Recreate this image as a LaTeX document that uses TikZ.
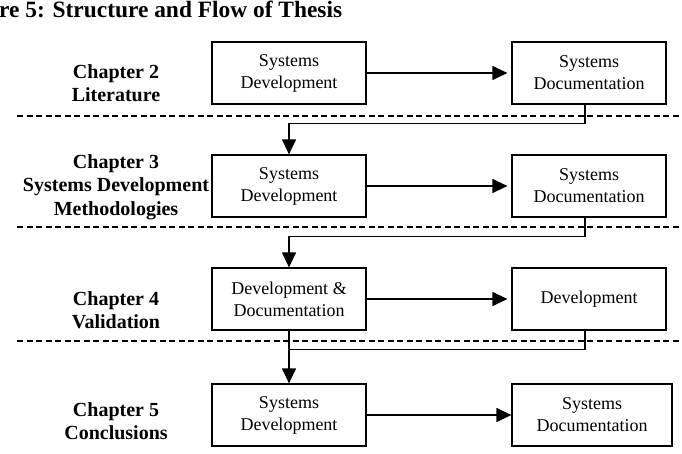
\documentclass[tikz,border=0pt]{standalone}
\usepackage{fontspec}
\setmainfont{Liberation Serif}
\usetikzlibrary{arrows.meta}

\tikzset{
  stagebox/.style={draw, line width=1.2pt, minimum width=154pt, minimum height=62pt,
    inner sep=0pt, align=center, font=\fontsize{18}{22}\selectfont},
  chapterlabel/.style={align=center, inner sep=0pt, font=\bfseries\fontsize{20}{23.5}\selectfont},
  separator/.style={dashed, dash pattern=on 6pt off 3.5pt, line width=1.1pt},
  flow/.style={line width=1.2pt, -{Triangle[length=15pt,width=14pt]}},
  link/.style={line width=1.2pt},
}

\begin{document}
\begin{tikzpicture}[x=1pt, y=-1pt]
  \useasboundingbox (0,0) rectangle (682,454);

  % title line
  \node[anchor=base west, inner sep=0pt, font=\bfseries\fontsize{23.4}{26}\selectfont]
    (title) at (-1,18) {re 5: Structure and Flow of Thesis};

  % chapter labels
  \node[chapterlabel] (c2) at (116,83)  {Chapter 2\\Literature};
  \node[chapterlabel] (c3) at (116,187) {Chapter 3\\Systems Development\\Methodologies};
  \node[chapterlabel] (c4) at (116,310) {Chapter 4\\Validation};
  \node[chapterlabel] (c5) at (116,421) {Chapter 5\\Conclusions};

  % separators between the chapters
  \draw[separator] (17,116) -- (682,116);
  \draw[separator] (17,227) -- (682,227);
  \draw[separator] (17,341) -- (682,341);

  % row 1
  \node[stagebox] (l1) at (289,73)  {Systems\\Development};
  \node[stagebox] (r1) at (589,73)  {Systems\\Documentation};
  % row 2
  \node[stagebox] (l2) at (289,186) {Systems\\Development};
  \node[stagebox] (r2) at (589,186) {Systems\\Documentation};
  % row 3
  \node[stagebox] (l3) at (289,299) {Development \&\\Documentation};
  \node[stagebox] (r3) at (589,299) {Development};
  % row 4
  \node[stagebox] (l4) at (289,415) {Systems\\Development};
  \node[stagebox, minimum width=160pt] (r4) at (592,415) {Systems\\Documentation};

  % horizontal flows
  \draw[flow, shorten >=4pt] (l1) -- (r1);
  \draw[flow, shorten >=4pt] (l2) -- (r2);
  \draw[flow, shorten >=4pt] (l3) -- (r3);
  \draw[flow] (l4) -- (r4);

  % flows down to the next chapter
  \draw[flow] ([xshift=-4pt]r1.south) -- ++(0,19) -| (l2.north);
  \draw[flow] ([xshift=-4pt]r2.south) -- ++(0,19) -| (l3.north);
  \draw[flow] (l3.south) -- (l4.north);
  \path (l3.south) ++(0,19) coordinate (j3);
  \draw[link] ([xshift=-4pt]r3.south) |- (j3);
\end{tikzpicture}
\end{document}
